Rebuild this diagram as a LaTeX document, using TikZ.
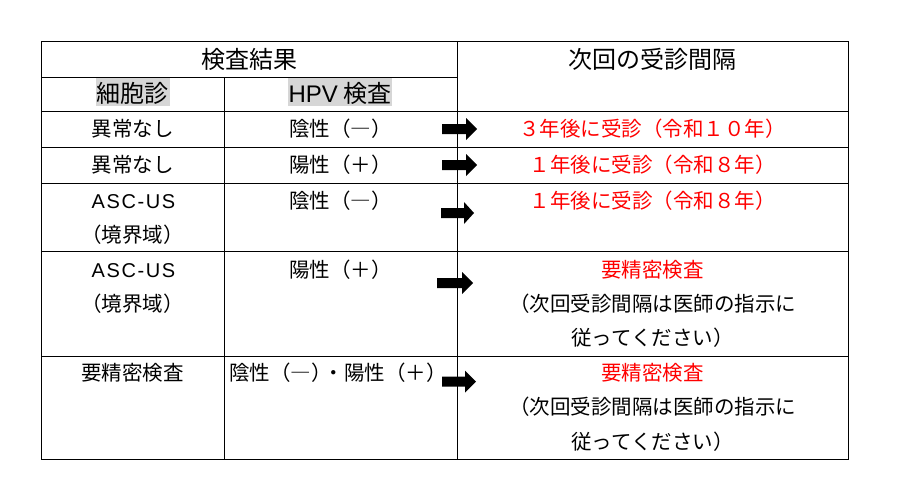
\documentclass[tikz,border=0pt]{standalone}
\usepackage{fontspec}
\setmainfont{Noto Sans CJK JP}
\newfontfamily\latinfont{Liberation Sans}
\newfontfamily\spacedlatin[LetterSpace=8]{Liberation Sans}
\definecolor{jred}{RGB}{255,0,0}
\definecolor{hlgray}{RGB}{214,214,214}

\begin{document}
\begin{tikzpicture}[x=1pt,y=-1pt,line width=1pt,
    celltext/.style={anchor=base,inner sep=0pt,font=\fontsize{20.5}{24}\selectfont},
    redtext/.style={celltext,text=jred},
    latintext/.style={celltext,font=\spacedlatin\fontsize{20}{24}\selectfont},
    toptitle/.style={anchor=base,inner sep=0pt,font=\fontsize{24}{28}\selectfont},
    colhead/.style={anchor=base,fill=hlgray,inner xsep=1pt,inner ysep=2pt,
        text height=22pt,text depth=2pt,font=\fontsize{24}{28}\selectfont}]
    \useasboundingbox (0,0) rectangle (900,498);

    % Draw table frame and columns
    \draw (41,41) rectangle (848,459);
    \draw (457.5,41) -- (457.5,459);
    \draw (224,77) -- (224,459);

    % Row lines
    \draw (41,77) -- (457.5,77);
    \draw (41,111) -- (848,111);
    \draw (41,147) -- (848,147);
    \draw (41,183) -- (848,183);
    \draw (41,251.5) -- (848,251.5);
    \draw (41,356) -- (848,356);

    % Headers
    \node[toptitle] (result) at (249,68.5) {検査結果};
    \node[toptitle] (interval) at (652.5,68.5) {次回の受診間隔};
    \node[colhead] (cytology) at (132.5,102) {細胞診};
    \node[colhead] (hpv) at (340,102) {{\latinfont HPV} 検査};

    % Row 1
    \node[celltext] (c1a) at (132.5,136.5) {異常なし};
    \node[celltext] (h1a) at (340.5,136.5) {陰性（―）};
    \node[redtext] (n1a) at (652.5,136) {３年後に受診（令和１０年）};

    % Row 2
    \node[celltext] (c2a) at (132.5,172) {異常なし};
    \node[celltext] (h2a) at (340.5,172) {陽性（＋）};
    \node[redtext] (n2a) at (652.5,172) {１年後に受診（令和８年）};

    % Row 3
    \node[latintext] (c3a) at (133.5,208) {ASC-US};
    \node[celltext] (c3b) at (132.5,242) {（境界域）};
    \node[celltext] (h3a) at (340.5,208) {陰性（―）};
    \node[redtext] (n3a) at (652.5,208) {１年後に受診（令和８年）};

    % Row 4
    \node[latintext] (c4a) at (133.5,277) {ASC-US};
    \node[celltext] (c4b) at (132.5,311) {（境界域）};
    \node[celltext] (h4a) at (340.5,277) {陽性（＋）};
    \node[redtext] (n4a) at (652.5,277) {要精密検査};
    \node[celltext] (n4b) at (652.5,311) {（次回受診間隔は医師の指示に};
    \node[celltext] (n4c) at (652.5,345) {従ってください）};

    % Row 5
    \node[celltext] (c5a) at (132.5,380) {要精密検査};
    \node[celltext] (h5a) at (338,380) {陰性（―）\kern-0.4em・陽性（＋）};
    \node[redtext] (n5a) at (652.5,380) {要精密検査};
    \node[celltext] (n5b) at (652.5,414.5) {（次回受診間隔は医師の指示に};
    \node[celltext] (n5c) at (652.5,449) {従ってください）};

    % Block arrows
    \fill[shift={(442,129)}] (0,-5) -- (24,-5) -- (24,-11) -- (35,0) -- (24,11) -- (24,5) -- (0,5) -- cycle;
    \fill[shift={(442,165)}] (0,-5) -- (24,-5) -- (24,-11) -- (35,0) -- (24,11) -- (24,5) -- (0,5) -- cycle;
    \fill[shift={(441,213)}] (0,-5) -- (23,-5) -- (23,-11) -- (33,0) -- (23,11) -- (23,5) -- (0,5) -- cycle;
    \fill[shift={(437,283)}] (0,-5) -- (25,-5) -- (25,-11) -- (36,0) -- (25,11) -- (25,5) -- (0,5) -- cycle;
    \fill[shift={(442,381.5)}] (0,-5) -- (23,-5) -- (23,-11) -- (34,0) -- (23,11) -- (23,5) -- (0,5) -- cycle;
\end{tikzpicture}
\end{document}
